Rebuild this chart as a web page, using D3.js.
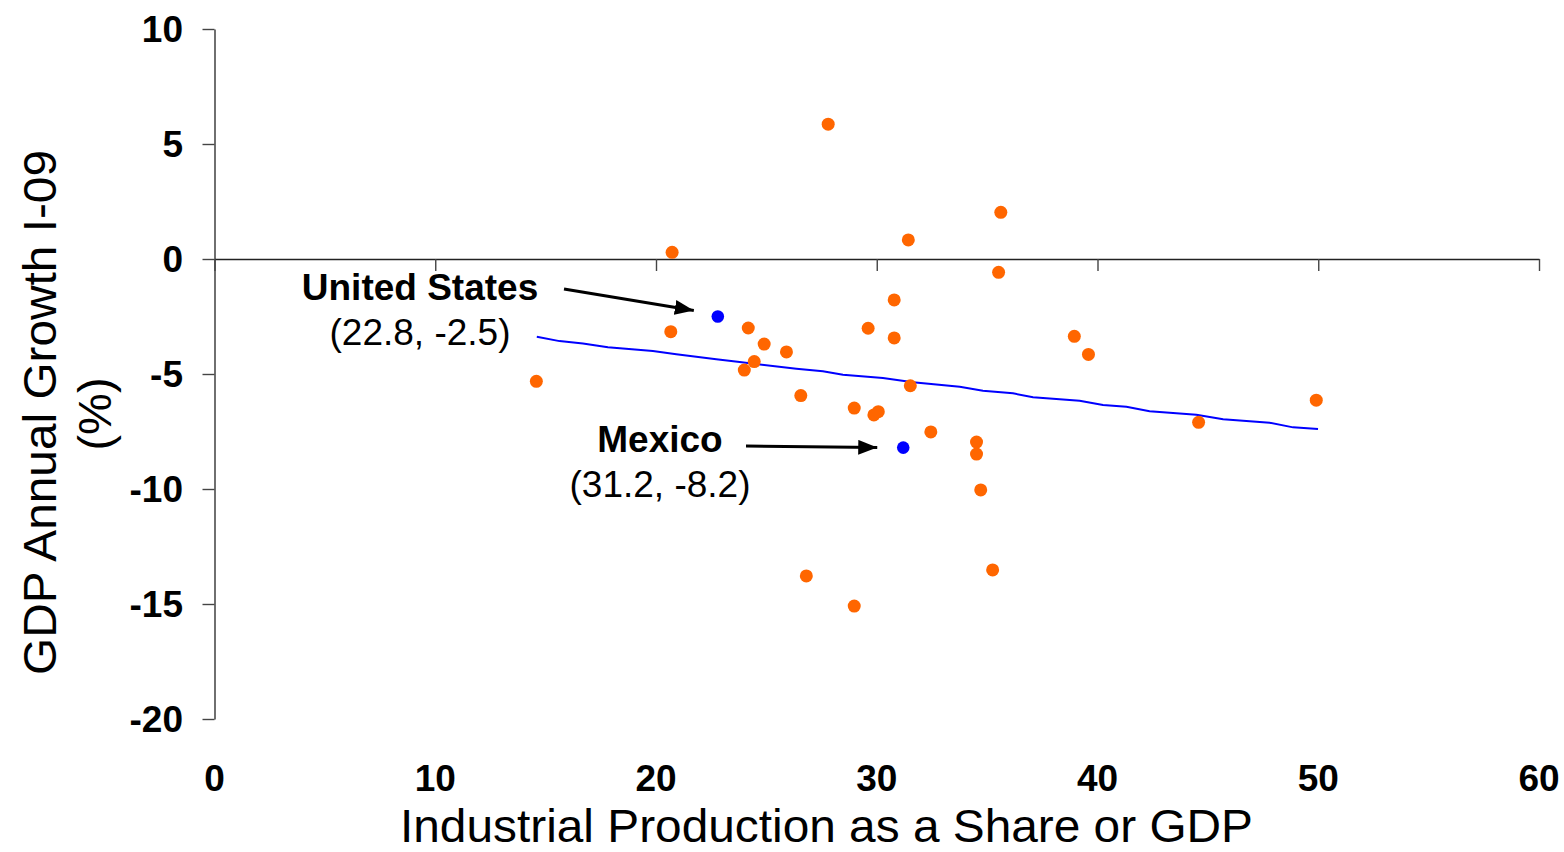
<!DOCTYPE html>
<html><head><meta charset="utf-8">
<script src="https://cdn.jsdelivr.net/npm/d3@7"></script>
<style>
body{margin:0;background:#fff}
svg{display:block}
text{font-family:"Liberation Sans",Arial,Helvetica,sans-serif;fill:#000}
</style>
</head><body><svg id="c" width="1564" height="852"></svg>
<script>
// ---- data ----
const xTicks = [0, 10, 20, 30, 40, 50, 60];
const yTicks = [10, 5, 0, -5, -10, -15, -20];

const countryX = [27.80, 35.62, 31.43, 20.73, 35.52, 30.79, 20.67, 24.18, 29.61, 30.79, 24.90, 25.91, 24.45, 24.00, 14.58, 31.52, 26.56, 28.98, 29.87, 30.07, 32.45, 34.52, 34.52, 34.71, 26.81, 35.25, 28.98, 38.95, 39.59, 44.58, 49.91];
const countryY = [5.86, 2.03, 0.83, 0.29, -0.58, -1.78, -3.16, -3.00, -3.01, -3.43, -3.70, -4.04, -4.46, -4.83, -5.32, -5.51, -5.94, -6.48, -6.78, -6.64, -7.52, -7.96, -8.48, -10.04, -13.78, -13.52, -15.09, -3.36, -4.15, -7.10, -6.14];

const highlightNames = ["United States", "Mexico"];
const highlightX = [22.8, 31.2];
const highlightY = [-2.5, -8.2];

const trendX = [14.60, 15.63, 16.69, 17.82, 19.86, 20.92, 22.73, 23.79, 26.36, 27.56, 28.47, 30.28, 31.64, 33.76, 34.81, 36.17, 37.08, 39.19, 40.25, 41.31, 42.36, 44.48, 45.69, 47.80, 48.86, 49.99];
const trendY = [-3.38, -3.57, -3.67, -3.84, -4.00, -4.14, -4.36, -4.48, -4.77, -4.88, -5.03, -5.17, -5.36, -5.55, -5.73, -5.84, -6.01, -6.16, -6.35, -6.42, -6.62, -6.77, -6.97, -7.12, -7.32, -7.39];

const xTitle = "Industrial Production as a Share or GDP";
const yTitle1 = "GDP Annual Growth I-09";
const yTitle2 = "(%)";

// ---- chart ----
const svg = d3.select("#c");
const x = d3.scaleLinear().domain([0, 60]).range([214.5, 1539]);
const y = d3.scaleLinear().domain([-20, 10]).range([719, 29]);

const defs = svg.append("defs");
defs.append("marker").attr("id", "ah")
  .attr("markerUnits", "userSpaceOnUse")
  .attr("markerWidth", 22).attr("markerHeight", 16)
  .attr("refX", 19).attr("refY", 7.5).attr("orient", "auto")
  .append("path").attr("d", "M0,0 L19,7.5 L0,15 Z").attr("fill", "#000");

// y axis
const yAxis = svg.append("g").attr("transform", `translate(${x(0)},0)`)
  .call(d3.axisLeft(y).tickValues(yTicks).tickSize(12).tickFormat("").tickSizeOuter(0));
yAxis.select(".domain").attr("stroke", "#333").attr("stroke-width", 1.4);
yAxis.selectAll(".tick line").attr("stroke", "#444").attr("stroke-width", 1.4);

// x axis at y=0
const xAxis = svg.append("g").attr("transform", `translate(0,${y(0)})`)
  .call(d3.axisBottom(x).tickValues(xTicks).tickSize(12).tickFormat("").tickSizeOuter(0));
xAxis.select(".domain").attr("stroke", "#222").attr("stroke-width", 1.6);
xAxis.selectAll(".tick line").attr("stroke", "#444").attr("stroke-width", 1.4);

// y tick labels
svg.append("g").selectAll("text").data(yTicks).join("text")
  .attr("x", 183).attr("y", d => y(d) + 13)
  .attr("text-anchor", "end").attr("font-weight", "bold").attr("font-size", 37)
  .text(d => d);

// x tick labels (bottom)
svg.append("g").selectAll("text").data(xTicks).join("text")
  .attr("x", d => x(d)).attr("y", 791)
  .attr("text-anchor", "middle").attr("font-weight", "bold").attr("font-size", 37)
  .text(d => d);

// axis titles
svg.append("text").attr("x", 826.5).attr("y", 842).attr("text-anchor", "middle")
  .attr("font-size", 46).attr("textLength", 853).attr("lengthAdjust", "spacingAndGlyphs")
  .text(xTitle);
svg.append("text").attr("transform", "translate(56,412.5) rotate(-90)").attr("text-anchor", "middle")
  .attr("font-size", 47).attr("textLength", 525).attr("lengthAdjust", "spacingAndGlyphs")
  .text(yTitle1);
svg.append("text").attr("transform", "translate(111,414) rotate(-90)").attr("text-anchor", "middle")
  .attr("font-size", 47)
  .text(yTitle2);

// trend line
const trend = trendX.map((v, i) => [v, trendY[i]]);
svg.append("path").datum(trend)
  .attr("fill", "none").attr("stroke", "#0000ff").attr("stroke-width", 2)
  .attr("d", d3.line().x(d => x(d[0])).y(d => y(d[1])));

// points
const pts = countryX.map((v, i) => [v, countryY[i]]);
svg.append("g").selectAll("circle").data(pts).join("circle")
  .attr("cx", d => x(d[0])).attr("cy", d => y(d[1])).attr("r", 6.5)
  .attr("fill", "#ff6600");

const hl = highlightX.map((v, i) => ({name: highlightNames[i], x: v, y: highlightY[i]}));
svg.append("g").selectAll("circle").data(hl).join("circle")
  .attr("cx", d => x(d.x)).attr("cy", d => y(d.y)).attr("r", 6.3)
  .attr("fill", "#0000ff");

// annotations (layout offsets relative to the point)
const ann = [
  {lx: 420, ly: 300, ly2: 345, ax1: 564, ay1: 289, dx: -24, dy: -6},
  {lx: 660, ly: 452, ly2: 497, ax1: 746, ay1: 446, dx: -26, dy: 0}
];
hl.forEach((d, i) => {
  const a = ann[i];
  svg.append("text").attr("x", a.lx).attr("y", a.ly).attr("text-anchor", "middle")
    .attr("font-weight", "bold").attr("font-size", 37).text(d.name);
  svg.append("text").attr("x", a.lx).attr("y", a.ly2).attr("text-anchor", "middle")
    .attr("font-size", 37).text(`(${d.x}, ${d.y})`);
  svg.append("line").attr("x1", a.ax1).attr("y1", a.ay1)
    .attr("x2", x(d.x) + a.dx).attr("y2", y(d.y) + a.dy)
    .attr("stroke", "#000").attr("stroke-width", 3).attr("marker-end", "url(#ah)");
});
</script>
</body></html>
